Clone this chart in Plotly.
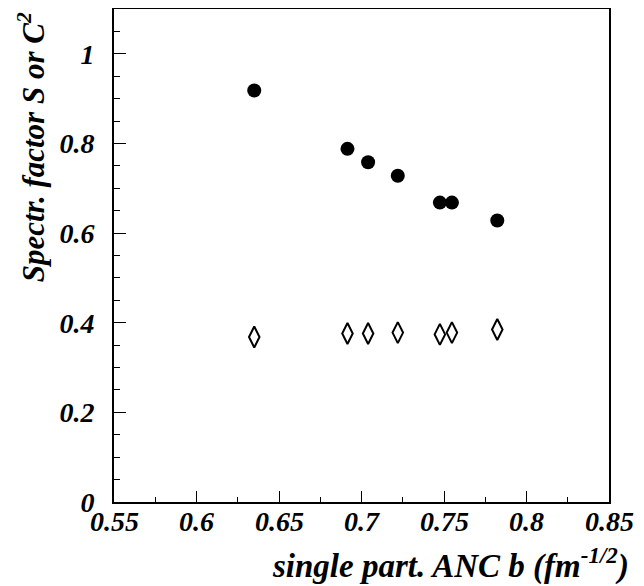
import plotly.graph_objects as go

# single particle ANC b (fm^-1/2)
anc_b = [0.635, 0.6915, 0.704, 0.722, 0.7475, 0.7548, 0.7823]
# spectroscopic factor S (filled circles)
spec_s = [0.918, 0.788, 0.758, 0.728, 0.668, 0.668, 0.628]
# C^2 (open diamonds)
c_sq = [0.368, 0.376, 0.376, 0.378, 0.374, 0.378, 0.385]

x_ticks = [0.55, 0.6, 0.65, 0.7, 0.75, 0.8, 0.85]
x_tick_text = ["0.55", "0.6", "0.65", "0.7", "0.75", "0.8", "0.85"]
y_ticks = [0, 0.2, 0.4, 0.6, 0.8, 1.0]
y_tick_text = ["0", "0.2", "0.4", "0.6", "0.8", "1"]

font_bi = dict(family="Liberation Serif", color="black", weight="bold", style="italic")

fig = go.Figure()
fig.add_trace(go.Scatter(x=anc_b, y=spec_s, mode="markers",
                         marker=dict(symbol="circle", size=14, color="black"),
                         showlegend=False))
fig.add_trace(go.Scatter(x=anc_b, y=c_sq, mode="markers",
                         marker=dict(symbol="diamond-tall-open", size=15, color="black",
                                     line=dict(width=2, color="black")),
                         showlegend=False))

fig.update_xaxes(range=[0.55, 0.85], showgrid=False, zeroline=False, automargin=False,
                 showline=True, linecolor="black", linewidth=2, mirror=True,
                 ticks="inside", ticklen=11, tickwidth=1, tickcolor="black",
                 tickvals=x_ticks, showticklabels=False,
                 minor=dict(dtick=0.025, tick0=0.55, ticks="inside", ticklen=5, tickcolor="black"))
fig.update_yaxes(range=[0, 1.1], showgrid=False, zeroline=False, automargin=False,
                 showline=True, linecolor="black", linewidth=2, mirror=True,
                 ticks="inside", ticklen=12, tickwidth=1, tickcolor="black",
                 tickvals=y_ticks, ticktext=y_tick_text,
                 minor=dict(dtick=0.05, tick0=0, ticks="inside", ticklen=6, tickcolor="black"),
                 tickfont=dict(size=28, **font_bi), ticklabelstandoff=12)

# x tick labels sit tight under the axis, as in the ROOT original
for xv, lab in zip(x_ticks, x_tick_text):
    fig.add_annotation(text=lab, x=xv, xref="x", y=0, yref="paper",
                       xanchor="center", yanchor="top", yshift=-2, showarrow=False,
                       font=dict(size=28, **font_bi))

fig.add_annotation(text="single part. ANC b (fm<sup>-1/2</sup>)", xref="paper", yref="paper",
                   x=1.044, y=-0.124, xanchor="right", yanchor="middle", showarrow=False,
                   font=dict(size=33, **font_bi))
fig.add_annotation(text="Spectr. factor S or C<sup>2</sup>", xref="paper", yref="paper",
                   x=-0.166, y=0.997, xanchor="center", yanchor="top", textangle=-90,
                   showarrow=False, font=dict(size=31, **font_bi))

# page body adds ~8px offset, so the figure is a bit smaller than the window
fig.update_layout(width=636, height=578, plot_bgcolor="white", paper_bgcolor="white",
                  margin=dict(l=106, r=35, t=1, b=84))
fig.write_html("out.html")
